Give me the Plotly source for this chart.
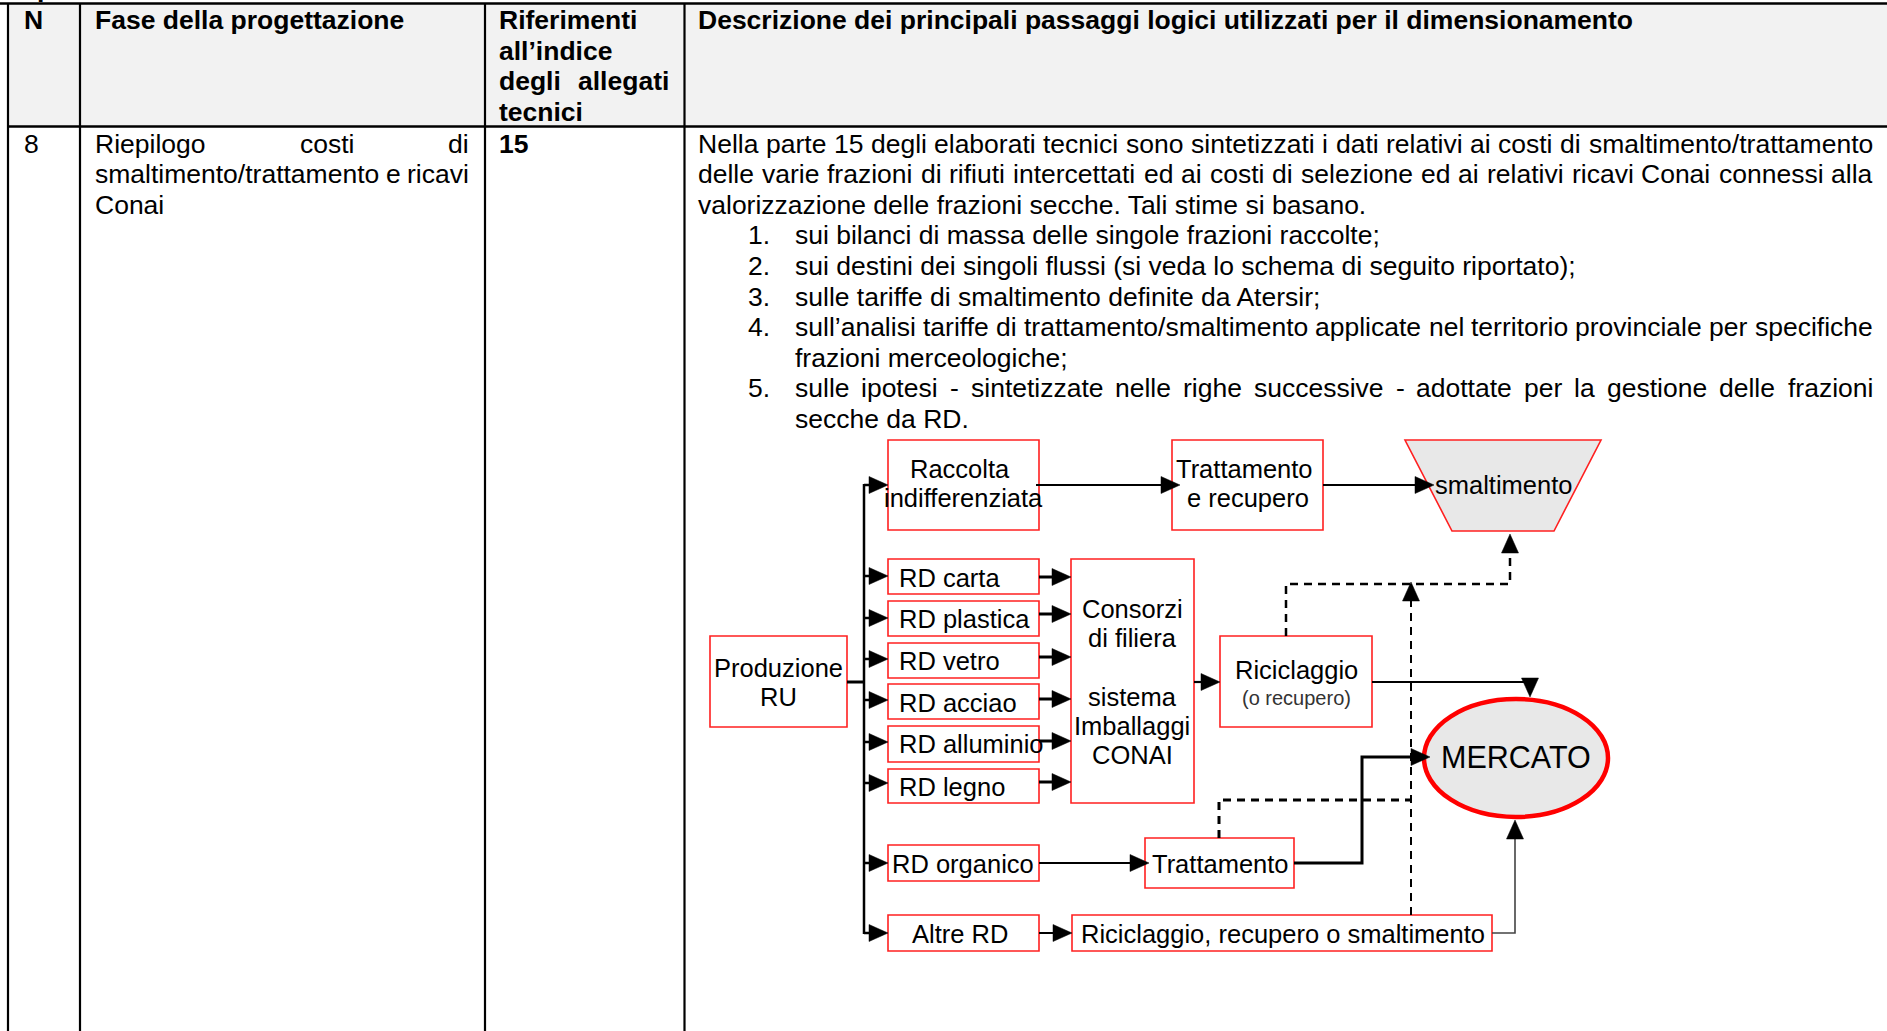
import plotly.graph_objects as go

W, H = 1887, 1031
FONT = "Liberation Sans, Arial, sans-serif"

# ---------------- data: table texts ----------------
header_n = "N"
header_fase = "Fase della progettazione"
header_rif = ["Riferimenti", "all’indice", "degli allegati", "tecnici"]
header_desc = "Descrizione dei principali passaggi logici utilizzati per il dimensionamento"
row_n = "8"
row_fase = ["Riepilogo costi di", "smaltimento/trattamento e ricavi", "Conai"]
row_rif = "15"
desc_intro = [
    "Nella parte 15 degli elaborati tecnici sono sintetizzati i dati relativi ai costi di smaltimento/trattamento",
    "delle varie frazioni di rifiuti intercettati ed ai costi di selezione ed ai relativi ricavi Conai connessi alla",
    "valorizzazione delle frazioni secche. Tali stime si basano.",
]
list_numbers = ["1.", "2.", "3.", "4.", "5."]
list_items = [
    ["sui bilanci di massa delle singole frazioni raccolte;"],
    ["sui destini dei singoli flussi (si veda lo schema di seguito riportato);"],
    ["sulle tariffe di smaltimento definite da Atersir;"],
    ["sull’analisi tariffe di trattamento/smaltimento applicate nel territorio provinciale per specifiche",
     "frazioni merceologiche;"],
    ["sulle ipotesi - sintetizzate nelle righe successive - adottate per la gestione delle frazioni",
     "secche da RD."],
]
top_fragment = "p"

# ---------------- data: flowchart labels ----------------
lbl_produzione = ["Produzione", "RU"]
lbl_raccolta = ["Raccolta", "indifferenziata"]
lbl_tratt_rec = ["Trattamento", "e recupero"]
lbl_smalt = "smaltimento"
rd_labels = ["RD carta", "RD plastica", "RD vetro", "RD acciao", "RD alluminio", "RD legno"]
lbl_consorzi = ["Consorzi", "di filiera", "sistema", "Imballaggi", "CONAI"]
lbl_ricic = ["Riciclaggio", "(o recupero)"]
lbl_organico = "RD organico"
lbl_tratt = "Trattamento"
lbl_altre = "Altre RD"
lbl_rrs = "Riciclaggio, recupero o smaltimento"
lbl_mercato = "MERCATO"

# ---------------- Arial / Liberation Sans advance widths (per 1000 em) ----------------
REG = {' ': 278, '(': 333, ')': 333, ',': 278, '-': 333, '.': 278, '/': 278, ':': 278, ';': 278, '’': 222, "'": 191}
BOLD = {' ': 278, '(': 333, ')': 333, ',': 278, '-': 333, '.': 278, '/': 278, ':': 333, ';': 333, '’': 278, "'": 238}
for d in '0123456789':
    REG[d] = 556
    BOLD[d] = 556
REG.update(dict(zip("ABCDEFGHIJKLMNOPQRSTUVWXYZ",
                    [667, 667, 722, 722, 667, 611, 778, 722, 278, 500, 667, 556, 833, 722, 778, 667, 778, 722, 667, 611, 722, 667, 944, 667, 667, 611])))
REG.update(dict(zip("abcdefghijklmnopqrstuvwxyz",
                    [556, 556, 500, 556, 556, 278, 556, 556, 222, 222, 500, 222, 833, 556, 556, 556, 556, 333, 500, 278, 556, 500, 722, 500, 500, 500])))
BOLD.update(dict(zip("ABCDEFGHIJKLMNOPQRSTUVWXYZ",
                     [722, 722, 722, 722, 667, 611, 778, 722, 278, 556, 722, 611, 833, 722, 778, 667, 778, 722, 667, 611, 722, 667, 944, 667, 667, 611])))
BOLD.update(dict(zip("abcdefghijklmnopqrstuvwxyz",
                     [556, 611, 556, 611, 556, 333, 611, 611, 278, 278, 556, 278, 889, 611, 611, 611, 611, 389, 556, 333, 611, 556, 778, 556, 556, 500])))


def tw(s, size, bold=False):
    t = BOLD if bold else REG
    return sum(t.get(c, 556) for c in s) * size / 1000.0


annotations = []
shapes = []


def text(x, y, s, size=26.5, bold=False, anchor="left", color="black", yanchor="middle"):
    annotations.append(dict(
        x=x, y=y, xref="x", yref="y", text=("<b>%s</b>" % s) if bold else s,
        showarrow=False, xanchor=anchor, yanchor=yanchor,
        font=dict(size=size, family=FONT, color=color),
        borderpad=0, borderwidth=0,
    ))


def justify(x0, x1, y, s, size=26.5, bold=False):
    words = s.split()
    widths = [tw(w, size, bold) for w in words]
    gap = (x1 - x0 - sum(widths)) / (len(words) - 1)
    x = x0
    for i, (w, wd) in enumerate(zip(words, widths)):
        if i == len(words) - 1:
            text(x1, y, w, size, bold, "right")
        else:
            text(x, y, w, size, bold, "left")
        x += wd + gap


def line(x0, y0, x1, y1, width=2, color="black", dash=None):
    ln = dict(color=color, width=width)
    if dash:
        ln["dash"] = dash
    shapes.append(dict(type="line", xref="x", yref="y", x0=x0, y0=y0, x1=x1, y1=y1, line=ln))


def poly(points, width=2, color="black", dash=None, closed=False, fill=None, lcolor=None):
    p = "M " + " L ".join("%.1f,%.1f" % pt for pt in points)
    if closed:
        p += " Z"
    ln = dict(color=lcolor or color, width=width)
    if dash:
        ln["dash"] = dash
    d = dict(type="path", xref="x", yref="y", path=p, line=ln)
    if fill:
        d["fillcolor"] = fill
    shapes.append(d)


def head(tipx, tipy, direction, length=19, half=8.5):
    if direction == "right":
        pts = [(tipx, tipy), (tipx - length, tipy - half), (tipx - length, tipy + half)]
    elif direction == "up":
        pts = [(tipx, tipy), (tipx - half, tipy + length), (tipx + half, tipy + length)]
    else:  # down
        pts = [(tipx, tipy), (tipx - half, tipy - length), (tipx + half, tipy - length)]
    poly(pts, width=0.5, closed=True, fill="black", lcolor="black")


def box(x0, y0, x1, y1, fill="white"):
    shapes.append(dict(type="rect", xref="x", yref="y", x0=x0, y0=y0, x1=x1, y1=y1,
                       line=dict(color="#ff2020", width=1.6), fillcolor=fill))


# ---------------- table ----------------
COLS = [8, 80, 485, 684.5]
TOP, HDR = 3.5, 126.5
shapes.append(dict(type="rect", xref="x", yref="y", x0=8, y0=TOP, x1=W + 5, y1=HDR,
                   line=dict(width=0), fillcolor="#f2f2f2", layer="below"))
line(0, TOP, W + 5, TOP, width=2.6)
line(8, HDR, W + 5, HDR, width=2.6)
for cx in COLS:
    line(cx, TOP, cx, H + 5, width=2.2)

FS = 26.5
LH = 30.55
HY0 = 20.3
BY0 = 143.8
X_N, X_FASE, X_RIF, X_DESC = 23.5, 95, 499, 698
R_FASE, R_RIF, R_DESC = 469, 669, 1872.5
X_NUM, X_ITEM = 748, 795

text(37, 3, top_fragment, FS, True, yanchor="bottom")

# header
text(X_N, HY0, header_n, FS, True)
text(X_FASE, HY0, header_fase, FS, True)
text(X_DESC, HY0, header_desc, FS, True)
for k, s in enumerate(header_rif):
    if k == 2:
        justify(X_RIF, R_RIF, HY0 + k * LH, s, FS, True)
    else:
        text(X_RIF, HY0 + k * LH, s, FS, True)

# row 8
text(X_N, BY0, row_n, FS)
text(X_RIF, BY0, row_rif, FS, True)
for k, s in enumerate(row_fase):
    if k < 2:
        justify(X_FASE, R_FASE, BY0 + k * LH, s, FS)
    else:
        text(X_FASE, BY0 + k * LH, s, FS)
for k, s in enumerate(desc_intro):
    if k < 2:
        justify(X_DESC, R_DESC, BY0 + k * LH, s, FS)
    else:
        text(X_DESC, BY0 + k * LH, s, FS)
k = 3
for num, item in zip(list_numbers, list_items):
    text(X_NUM, BY0 + k * LH, num, FS)
    for j, s in enumerate(item):
        y = BY0 + k * LH
        if len(item) > 1 and j == 0:
            justify(X_ITEM, R_DESC, y, s, FS)
        else:
            text(X_ITEM, y, s, FS)
        k += 1

# ---------------- flowchart ----------------
FF = 25.5
# boxes
box(710, 636, 847, 727)                       # produzione
box(888, 440, 1039, 530)                      # raccolta
box(1172, 440, 1323, 530)                     # trattamento e recupero
poly([(1405, 440), (1601, 440), (1554, 531), (1452, 531)], width=1.6, closed=True,
     fill="#e8e8e8", lcolor="#ff2020")        # smaltimento
RD_Y = [(559, 594), (601, 636), (643, 678), (684, 719), (726, 762), (769, 803)]
for (y0, y1) in RD_Y:
    box(888, y0, 1039, y1)
box(888, 845, 1039, 881)                      # organico
box(888, 915, 1039, 951)                      # altre RD
box(1071, 559, 1194, 803)                     # consorzi
box(1220, 636, 1372, 727)                     # riciclaggio
box(1145, 838, 1294, 888)                     # trattamento
box(1072, 915, 1492, 951)                     # riciclaggio recupero smaltimento
shapes.append(dict(type="circle", xref="x", yref="y", x0=1424, y0=699, x1=1608, y1=817,
                   line=dict(color="#ff0000", width=4.5), fillcolor="#e8e8e8"))

# solid connectors
line(847, 682, 864, 682, width=3)
line(864, 484, 864, 934, width=2.5)
BR_Y = [485, 576, 618, 659, 700, 742, 783, 863, 933]
for y in BR_Y:
    line(864, y, 872, y, width=2.5)
    head(888, y, "right")
C_Y = [577, 614, 657, 699, 741, 782]
for y in C_Y:
    line(1039, y, 1055, y, width=3)
    head(1071, y, "right")
line(1036, 485, 1164, 485, width=2.2)
head(1180, 485, "right")
line(1323, 485, 1418, 485, width=2.2)
head(1434, 485, "right")
line(1194, 682, 1205, 682, width=2.2)
head(1220, 682, "right")
line(1372, 682, 1530, 682, width=2)
head(1530, 697, "down")
line(1039, 863, 1133, 863, width=2)
head(1149, 863, "right")
line(1039, 933, 1056, 933, width=2)
head(1072, 933, "right")
poly([(1294, 863), (1362, 863), (1362, 757), (1414, 757)], width=3)
head(1430, 757, "right")
poly([(1492, 933), (1515, 933), (1515, 836)], width=1.6, color="#444444")
head(1515, 820, "up")

# dashed connectors
DASH = "8px,6px"
poly([(1286, 636), (1286, 584), (1510, 584), (1510, 551)], width=2.5, dash=DASH)
head(1510, 534, "up")
line(1411, 915, 1411, 598, width=2, dash=DASH)
head(1411, 582, "up")
poly([(1219, 838), (1219, 800), (1411, 800)], width=3, dash=DASH)

# labels
text(778.5, 668, lbl_produzione[0], FF, anchor="center")
text(778.5, 697, lbl_produzione[1], FF, anchor="center")
text(960, 469, lbl_raccolta[0], FF, anchor="center")
text(963, 498, lbl_raccolta[1], FF, anchor="center")
text(1244, 469, lbl_tratt_rec[0], FF, anchor="center")
text(1248, 498, lbl_tratt_rec[1], FF, anchor="center")
text(1503, 485, lbl_smalt, FF, anchor="center")
RD_TY = [577.5, 618.5, 660.5, 702.5, 743.5, 786.5]
for s, y in zip(rd_labels, RD_TY):
    text(899, y, s, FF)
for s, y in zip(lbl_consorzi, [609, 638, 697, 726, 755]):
    text(1132, y, s, FF, anchor="center")
text(1296, 670, lbl_ricic[0], FF, anchor="center")
text(1296, 698, lbl_ricic[1], 20, anchor="center", color="#333333")
text(963, 864, lbl_organico, FF, anchor="center")
text(1220, 864, lbl_tratt, FF, anchor="center")
text(960, 934, lbl_altre, FF, anchor="center")
text(1283, 934, lbl_rrs, FF, anchor="center")
text(1516, 757, lbl_mercato, 30.5, anchor="center")

fig = go.Figure()
fig.update_layout(
    width=W, height=H, margin=dict(l=0, r=0, t=0, b=0, pad=0),
    paper_bgcolor="white", plot_bgcolor="white", showlegend=False,
    xaxis=dict(range=[0, W], visible=False, fixedrange=True),
    yaxis=dict(range=[H, 0], visible=False, fixedrange=True),
    shapes=shapes, annotations=annotations,
)
fig.write_html("out.html", include_plotlyjs=True, config={"displayModeBar": False},
               post_script="document.body.style.margin='0px';document.body.style.overflow='hidden';")
